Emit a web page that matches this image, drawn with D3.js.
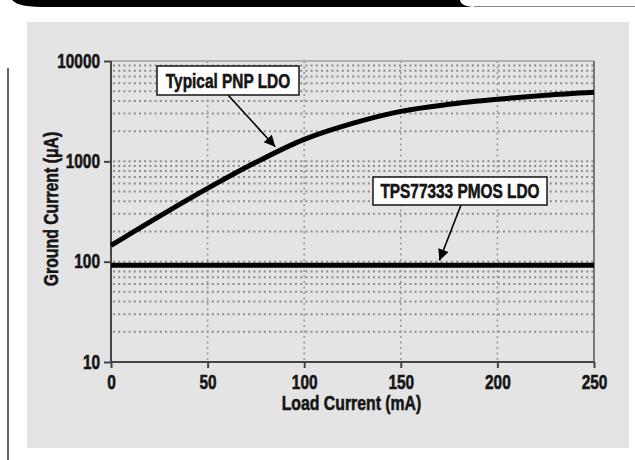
<!DOCTYPE html>
<html><head><meta charset="utf-8">
<script src="https://cdn.jsdelivr.net/npm/d3@7"></script>
<style>
html,body{margin:0;padding:0;background:#fff;}
svg text{font-family:"Liberation Sans",Arial,sans-serif;font-weight:bold;fill:#151515;stroke:#151515;stroke-width:0.55px;}
</style></head>
<body>
<svg id="c" width="635" height="460"></svg>
<script>
// ---- data ----
const loadCurrent = [0, 25, 50, 75, 100, 125, 150, 175, 200, 225, 250];          // mA
const pnpGround   = [145, 283, 537, 977, 1655, 2390, 3150, 3700, 4150, 4550, 4870]; // µA
const pmosGround  = [92, 92, 92, 92, 92, 92, 92, 92, 92, 92, 92];                  // µA
const xTicks = [0, 50, 100, 150, 200, 250];
const yTicks = [10, 100, 1000, 10000];
const seriesNames = ["Typical PNP LDO", "TPS77333 PMOS LDO"];
const xTitle = "Load Current (mA)";
const yTitle = "Ground Current (\u03BCA)";

// ---- drawing ----
const svg = d3.select("#c");

// header decoration
svg.append("path")
  .attr("d", "M12,0 C18,6 28,7 48,7 L476,7 Q461,7 460,0 Z")
  .attr("fill", "#000");
svg.append("line").attr("x1", 474).attr("x2", 635).attr("y1", 6.5).attr("y2", 6.5)
  .attr("stroke", "#8a8a8a").attr("stroke-width", 1);
svg.append("line").attr("x1", 8).attr("x2", 8).attr("y1", 68).attr("y2", 460)
  .attr("stroke", "#333").attr("stroke-width", 1.5);

// panel
svg.append("rect").attr("x", 27).attr("y", 22).attr("width", 602).attr("height", 426)
  .attr("fill", "#e4e4e4");

const x = d3.scaleLinear().domain([0, 250]).range([111, 594]);
const y = d3.scaleLog().domain([10, 10000]).range([362, 61]);

// minor grid (horizontal)
const minor = [];
for (let d = 10; d < 10000; d *= 10) for (let k = 2; k <= 10; k++) minor.push(d * k);
const hg = minor.filter(v => v < 10000);
svg.append("g").selectAll("line").data(hg).join("line")
  .attr("x1", x(0) + 2).attr("x2", x(250) - 1)
  .attr("y1", d => y(d)).attr("y2", d => y(d))
  .attr("stroke", "#8c8c8c").attr("stroke-width", 2).attr("stroke-dasharray", "2,3.2");
// vertical grid
svg.append("g").selectAll("line").data(xTicks.filter(v => v > 0 && v < 250)).join("line")
  .attr("x1", d => x(d)).attr("x2", d => x(d))
  .attr("y1", y(10000)).attr("y2", y(10))
  .attr("stroke", "#9a9a9a").attr("stroke-width", 1.6).attr("stroke-dasharray", "2,3.5");

// top/right borders
svg.append("line").attr("x1", x(0)).attr("x2", x(250)).attr("y1", y(10000)).attr("y2", y(10000))
  .attr("stroke", "#a0a0a0").attr("stroke-width", 1.5);
svg.append("line").attr("x1", x(250)).attr("x2", x(250)).attr("y1", y(10000)).attr("y2", y(10))
  .attr("stroke", "#555").attr("stroke-width", 1.5);

// axes
const ax = svg.append("g").attr("transform", `translate(0,${y(10)})`)
  .call(d3.axisBottom(x).tickValues(xTicks).tickFormat(d3.format("d")).tickSize(6).tickPadding(7));
const ay = svg.append("g").attr("transform", `translate(${x(0)},0)`)
  .call(d3.axisLeft(y).tickValues(yTicks).tickFormat(d3.format("d")).tickSize(7).tickPadding(4));
[ax, ay].forEach(g => {
  g.select(".domain").attr("stroke", "#444").attr("stroke-width", 2);
  g.selectAll(".tick line").attr("stroke", "#444").attr("stroke-width", 2);
  g.selectAll(".tick text").style("font-size", "19.5px").attr("fill", "#151515")
    .style("font-family", "'Liberation Sans',Arial,sans-serif").style("font-weight", "bold");
});
ax.select(".domain").attr("d", `M${x(0)},0H${x(250)}`);
ay.select(".domain").attr("d", `M0,${y(10000)}V${y(10)}`);

// series
const line = d3.line().x(d => x(d[0])).y(d => y(d[1])).curve(d3.curveCatmullRom.alpha(0.5));
svg.append("path").datum(loadCurrent.map((v, i) => [v, pmosGround[i]]))
  .attr("d", line).attr("fill", "none").attr("stroke", "#000").attr("stroke-width", 5);
svg.append("path").datum(loadCurrent.map((v, i) => [v, pnpGround[i]]))
  .attr("d", line).attr("fill", "none").attr("stroke", "#000").attr("stroke-width", 5)
  .attr("stroke-linecap", "butt");

// axis titles
svg.append("text").attr("x", x(125) - 1).attr("y", 410).attr("text-anchor", "middle")
  .style("font-size", "20px").text(xTitle);
svg.append("text").attr("transform", `translate(58,209) rotate(-90)`).attr("text-anchor", "middle")
  .style("font-size", "20px").text(yTitle);

// annotations
svg.append("defs").append("marker").attr("id", "ah").attr("viewBox", "0 0 10 10")
  .attr("refX", 10).attr("refY", 5).attr("markerWidth", 13).attr("markerHeight", 11)
  .attr("markerUnits", "userSpaceOnUse").attr("orient", "auto")
  .append("path").attr("d", "M0,0 L10,5 L0,10 Z").attr("fill", "#000");

function annotate(label, bx, by, bw, bh, sx, sy, tx, ty) {
  svg.append("line").attr("x1", sx).attr("y1", sy).attr("x2", tx).attr("y2", ty)
    .attr("stroke", "#000").attr("stroke-width", 1.6).attr("marker-end", "url(#ah)");
  svg.append("rect").attr("x", bx).attr("y", by).attr("width", bw).attr("height", bh)
    .attr("fill", "#fff").attr("stroke", "#222").attr("stroke-width", 1.6);
  svg.append("text").attr("x", bx + bw / 2).attr("y", by + bh / 2).attr("dy", "0.36em")
    .attr("text-anchor", "middle").style("font-size", "19.5px").text(label);
}
annotate(seriesNames[0], 157, 66, 142, 29, 228, 95, x(85), y(1400));
annotate(seriesNames[1], 373, 177, 174, 28, 461, 205, x(170), y(103));

// condensed look: squeeze every label horizontally
svg.selectAll("text").each(function () {
  const w = this.getComputedTextLength();
  this.setAttribute("textLength", (w * 0.79).toFixed(1));
  this.setAttribute("lengthAdjust", "spacingAndGlyphs");
});
</script>
</body></html>
